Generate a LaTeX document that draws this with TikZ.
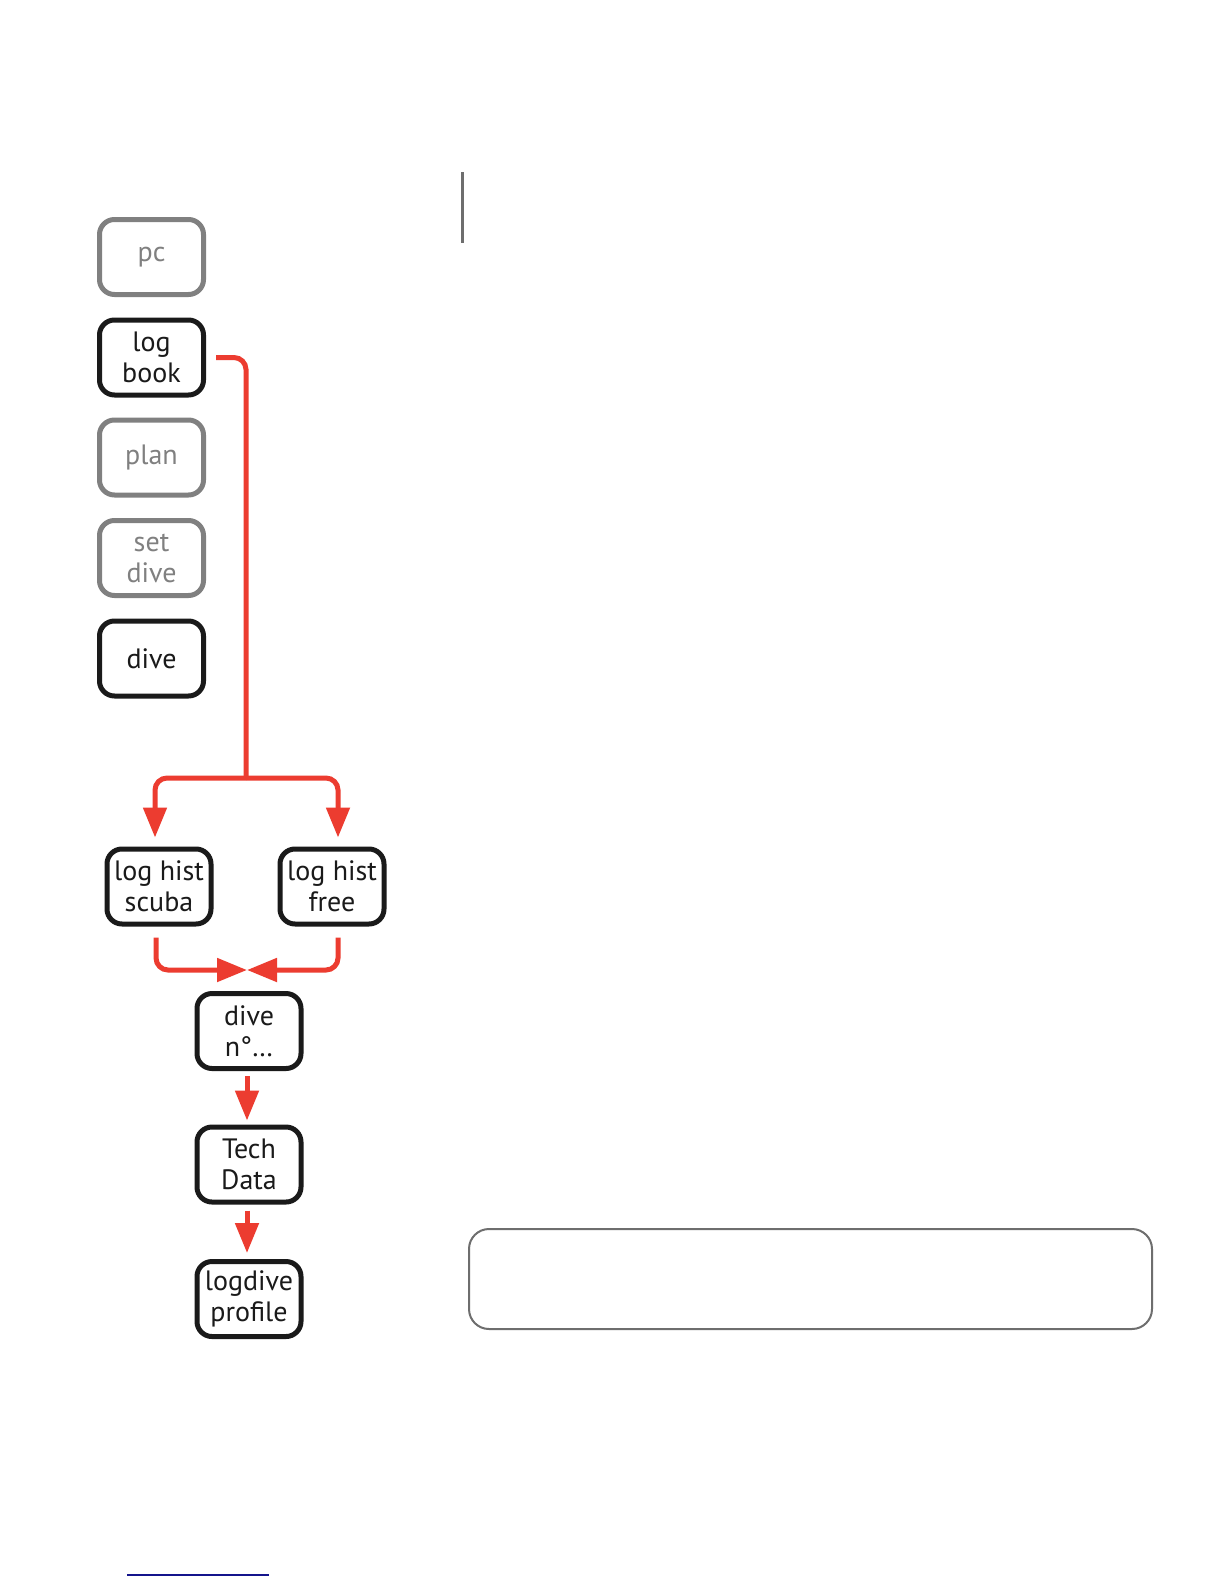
\documentclass[tikz,border=0pt]{standalone}
\usepackage{fontspec}
\setmainfont{PT Sans}
\usetikzlibrary{arrows.meta,calc}
\definecolor{boxblack}{HTML}{1A1A1A}
\definecolor{boxgray}{HTML}{808080}
\definecolor{flowred}{HTML}{EC3C30}
\definecolor{rulegray}{HTML}{6E6E6E}
\definecolor{linknavy}{HTML}{14148C}
\tikzset{
  menubox/.style={draw=boxblack, text=boxblack, line width=5pt, rounded corners=15pt,
    minimum width=104pt, minimum height=75pt, inner sep=0pt, align=center,
    font=\fontsize{28}{31}\selectfont},
  menugray/.style={menubox, draw=boxgray, text=boxgray},
  flowline/.style={draw=flowred, line width=5pt, rounded corners=12pt},
  flowarrow/.style={flowline, -{Triangle[width=23pt,length=30pt]}}
}
\begin{document}
\begin{tikzpicture}[x=1pt,y=-1pt]
\useasboundingbox (0,0) rectangle (1224,1584);
\fill[white] (0,0) rectangle (1224,1584);

\node[menugray] (pc) at (151.5,257) {pc};
\node[menubox] (logbook) at (151.5,357.5) {log\\book};
\node[menugray] (plan) at (151.5,457.5) {plan};
\node[menugray] (setdive) at (151.5,558) {set\\dive};
\node[menubox] (dive) at (151.5,658.5) {dive};

\node[menubox] (scuba) at (159,886.5) {log hist\\scuba};
\node[menubox] (free) at (332,886.5) {log hist\\free};
\node[menubox] (diveno) at (249,1031) {dive\\n°…};
\node[menubox] (tech) at (249,1164.5) {Tech\\Data};
\node[menubox] (logdive) at (249,1299) {logdive\\profile};

\coordinate (J) at (246,778);
\coordinate (M) at (247,970);

\draw[flowline] ([xshift=10pt]logbook.east) -| (J);
\draw[flowarrow] (J) -| ([xshift=-4pt,yshift=9pt]scuba.north);
\draw[flowarrow] (J) -| ([xshift=6pt,yshift=9pt]free.north);
\draw[flowarrow] ([xshift=-3pt,yshift=-11pt]scuba.south) |- (M);
\draw[flowarrow] ([xshift=6pt,yshift=-11pt]free.south) |- (M);
\draw[flowarrow] ([xshift=-2pt,yshift=-5pt]diveno.south) -- ([xshift=-2pt,yshift=4pt]tech.north);
\draw[flowarrow] ([xshift=-2pt,yshift=-6pt]tech.south) -- ([xshift=-2pt,yshift=6pt]logdive.north);

\coordinate (rt) at (462,172);
\coordinate (rb) at (462,243);
\draw[rulegray, line width=3pt] (rt) -- (rb);

\node[draw=rulegray, line width=2pt, rounded corners=20pt, minimum width=683pt, minimum height=100pt, inner sep=0pt] (note) at (810.5,1279) {};

\coordinate (ul) at (127,1575);
\coordinate (ur) at (269,1575);
\draw[linknavy, line width=2pt] (ul) -- (ur);
\end{tikzpicture}
\end{document}
